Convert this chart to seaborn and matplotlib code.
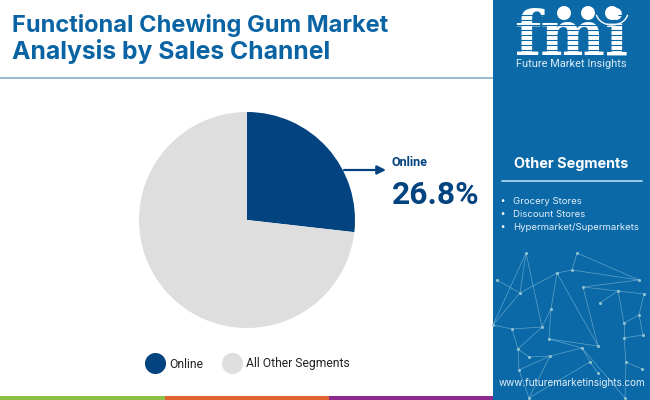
import matplotlib
matplotlib.use('Agg')
import matplotlib.pyplot as plt
from matplotlib.patches import Rectangle, Circle, Arc
import seaborn as sns

# Datos del grafico
categories = ['Online', 'All Other Segments']
shares = [26.8, 73.2]
other_segments = ['Grocery Stores', 'Discount Stores', 'Hypermarket/Supermarkets']
title_lines = ['Functional Chewing Gum Market', 'Analysis by Sales Channel']

NAVY = '#03437f'
GREY = '#dedede'
PANEL = '#0b69a8'
TITLE = '#0a64a4'

# Red decorativa del panel derecho (pixeles de la imagen)
nodes = [(526, 253), (577, 253), (497, 280), (520, 293), (557, 273), (572, 270), (639, 280),
         (583, 287), (618, 291), (644, 294), (600, 303), (551, 309), (639, 315), (624, 323),
         (542, 327), (512, 329), (643, 335), (624, 338), (549, 339), (598, 346), (518, 349),
         (582, 348), (529, 357), (550, 356), (590, 362), (626, 362), (519, 370), (642, 369),
         (598, 373), (529, 398), (625, 398), (493, 325)]
edges = [(0, 3), (0, 14), (0, 31), (1, 5), (1, 6), (2, 3), (3, 4), (4, 5), (5, 6), (7, 6), (7, 8),
         (8, 9), (8, 10), (4, 11), (4, 19), (7, 19), (11, 14), (11, 18), (14, 15), (15, 31), (14, 20),
         (18, 19), (18, 21), (20, 22), (22, 23), (21, 23), (23, 26), (21, 24), (24, 28), (13, 12),
         (13, 17), (17, 16), (17, 25), (8, 13), (25, 27), (26, 29), (23, 29), (25, 30), (12, 9),
         (20, 26), (3, 31), (21, 30), (16, 12), (15, 20), (24, 29)]

sns.set_theme(style='white')
plt.rcParams['font.family'] = ['Roboto', 'DejaVu Sans']

fig = plt.figure(figsize=(6.5, 4), dpi=100, facecolor='white')

# Lienzo en pixeles para el fondo, textos y adornos
bg = fig.add_axes([0, 0, 1, 1])
bg.set_xlim(0, 650)
bg.set_ylim(400, 0)
bg.axis('off')

bg.add_patch(Rectangle((493, 0), 157, 400, color=PANEL, lw=0))
bg.plot([0, 493], [78, 78], color='#8fb4cc', lw=1.3, solid_capstyle='butt')
bg.add_patch(Rectangle((0, 396), 165, 4, color='#8cbf45', lw=0))
bg.add_patch(Rectangle((165, 396), 164, 4, color='#e2622f', lw=0))
bg.add_patch(Rectangle((329, 396), 164, 4, color='#8e2a8c', lw=0))

# Titulo (la segunda linea un poco mayor para llegar al mismo ancho)
for y, size, line in zip([32, 59], [17.0, 17.8], title_lines):
    bg.text(12, y, line, color=TITLE, family='Inter', fontsize=size, fontweight='bold',
            va='baseline', ha='left')

# Red del panel
for a, b in edges:
    bg.plot([nodes[a][0], nodes[b][0]], [nodes[a][1], nodes[b][1]], color='#7fbcd8', lw=0.5, alpha=0.7)
bg.scatter([n[0] for n in nodes], [n[1] for n in nodes], s=5, color='#8fc0cf', lw=0, zorder=3)

# Logo
bg.text(571, 55, 'fmi', color='white', family='DejaVu Serif', fontsize=44, fontweight='bold',
        va='baseline', ha='center')
for y in range(15, 55, 5):
    bg.plot([514, 628], [y, y], color=PANEL, lw=0.8, zorder=4)
for x in [564, 588, 612]:
    bg.add_patch(Circle((x, 13), 7, color='white', lw=0, zorder=5))
bg.add_patch(Arc((612, 12), 32, 26, theta1=10, theta2=170, color='white', lw=1, zorder=5))
bg.text(571, 64, 'Future Market Insights', color='#dcecf6', fontsize=7.9, va='center', ha='center', zorder=6)

# Panel de otros segmentos
bg.text(571.5, 164, 'Other Segments', color='white', family='Inter', fontsize=10.4, fontweight='bold',
        va='center', ha='center')
bg.plot([502, 642], [181, 181], color='#a8cfe6', lw=1.3)
for y, seg in zip([202, 214.5, 227], other_segments):
    bg.text(500, y, '•', color='white', fontsize=9, va='center', ha='left')
    bg.text(513, y, seg, color='#e3eff7', family='Inter', fontsize=6.9, va='center', ha='left')
bg.text(572, 383, 'www.futuremarketinsights.com', color='#e3eff7', family='Inter', fontsize=7.15,
        va='center', ha='center', zorder=6)

# Etiqueta de la porcion
bg.annotate('', xy=(386, 170), xytext=(344, 170),
            arrowprops=dict(arrowstyle='-|>', color=NAVY, lw=1.6, mutation_scale=13, shrinkA=0, shrinkB=0))
bg.text(392, 162, categories[0], color=NAVY, fontsize=9, fontweight='bold', va='center', ha='left')
bg.text(392, 195, f'{shares[0]}%', color=NAVY, fontsize=22.9, fontweight='bold', va='center', ha='left')

# Pie
palette = sns.color_palette([NAVY, GREY])
pie_ax = fig.add_axes([(247 - 108) / 650, 1 - (220 + 108) / 400, 216 / 650, 216 / 400])
pie_ax.pie(shares, colors=palette, startangle=90, counterclock=False, radius=1,
           wedgeprops=dict(linewidth=0))
pie_ax.set_xlim(-1, 1)
pie_ax.set_ylim(-1, 1)

# Leyenda
for x, color in zip([155, 232], palette):
    bg.scatter([x], [363], s=230, color=[color], lw=0)
bg.text(169, 364, categories[0], color='#222222', fontsize=8.7, va='center', ha='left')
bg.text(246, 364, categories[1], color='#222222', fontsize=8.7, va='center', ha='left')

fig.savefig('out.png', dpi=100)
